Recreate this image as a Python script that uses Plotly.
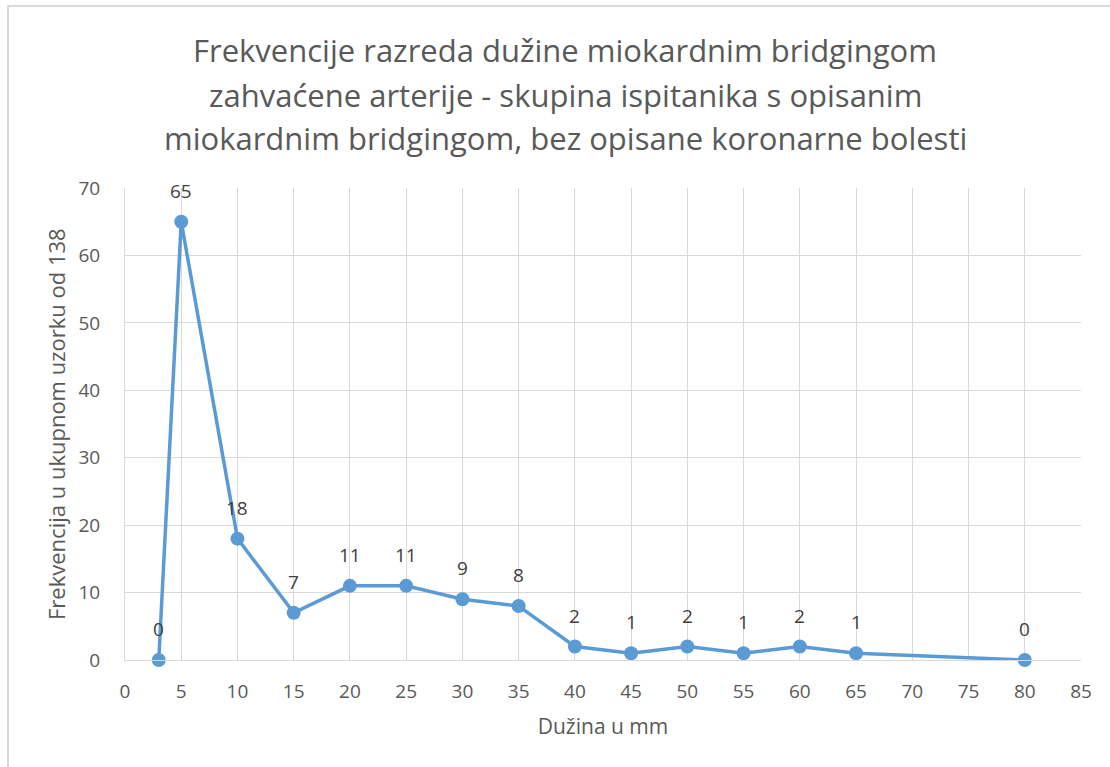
import plotly.graph_objects as go

# Length classes (mm) and frequency counts
duzina = [3, 5, 10, 15, 20, 25, 30, 35, 40, 45, 50, 55, 60, 65, 80]
frekvencija = [0, 65, 18, 7, 11, 11, 9, 8, 2, 1, 2, 1, 2, 1, 0]

title_lines = [
    "Frekvencije razreda dužine miokardnim bridgingom",
    "zahvaćene arterije - skupina ispitanika s opisanim",
    "miokardnim bridgingom, bez opisane koronarne bolesti",
]

FONT = "Open Sans"
GRID = "#D9D9D9"
TXT = "#595959"
BLUE = "#5B9BD5"

W, H = 1110, 767
ML, MR, MT, MB = 125, 29, 188, 107
PW, PH = W - ML - MR, H - MT - MB

fig = go.Figure()
fig.add_trace(go.Scatter(
    x=duzina, y=frekvencija,
    mode="lines+markers",
    line=dict(color=BLUE, width=3.5),
    marker=dict(color=BLUE, size=14),
    cliponaxis=False,
    hoverinfo="x+y",
))

def px_x(p):
    return (p - ML) / PW

def px_y(p):
    return 1 - (p - MT) / PH

annotations = []
for line, yc in zip(title_lines, [50, 95, 138]):
    annotations.append(dict(
        text=line, xref="paper", yref="paper",
        x=px_x(565), y=px_y(yc), xanchor="center", yanchor="middle",
        showarrow=False, font=dict(family=FONT, size=31, color=TXT),
    ))

# value labels above each point
for xv, yv in zip(duzina, frekvencija):
    annotations.append(dict(
        text=str(yv), x=xv, y=yv, xref="x", yref="y",
        showarrow=False, yshift=31, xanchor="center", yanchor="middle",
        font=dict(family=FONT, size=19, color="#404040"),
    ))

# y-axis title placed beside the tick labels
annotations.append(dict(
    text="Frekvencija u ukupnom uzorku od 138", xref="paper", yref="paper",
    x=px_x(56), y=0.5, xanchor="center", yanchor="middle", textangle=-90,
    showarrow=False, font=dict(family=FONT, size=22, color=TXT),
))

fig.update_layout(
    width=W, height=H,
    margin=dict(l=ML, r=MR, t=MT, b=MB),
    paper_bgcolor="white", plot_bgcolor="white",
    showlegend=False,
    annotations=annotations,
    xaxis=dict(
        range=[0, 85], tick0=0, dtick=5, showgrid=True, gridcolor=GRID, gridwidth=1,
        zeroline=False, showline=True, linecolor=GRID, mirror=False,
        ticks="", tickfont=dict(family=FONT, size=19, color=TXT), ticklabelstandoff=14,
        title=dict(text="Dužina u mm", font=dict(family=FONT, size=21, color=TXT), standoff=16),
        fixedrange=True,
    ),
    yaxis=dict(
        range=[0, 70], tick0=0, dtick=10, showgrid=True, gridcolor=GRID, gridwidth=1,
        zeroline=False, showline=True, linecolor=GRID,
        ticks="", tickfont=dict(family=FONT, size=19, color=TXT), ticklabelstandoff=20,
        fixedrange=True,
    ),
    shapes=[dict(
        type="rect", xref="paper", yref="paper",
        x0=px_x(8), x1=px_x(W + 20), y0=px_y(H + 20), y1=px_y(6),
        line=dict(color=GRID, width=2), fillcolor="rgba(0,0,0,0)", layer="below",
    )],
)

fig.write_html("out.html")
